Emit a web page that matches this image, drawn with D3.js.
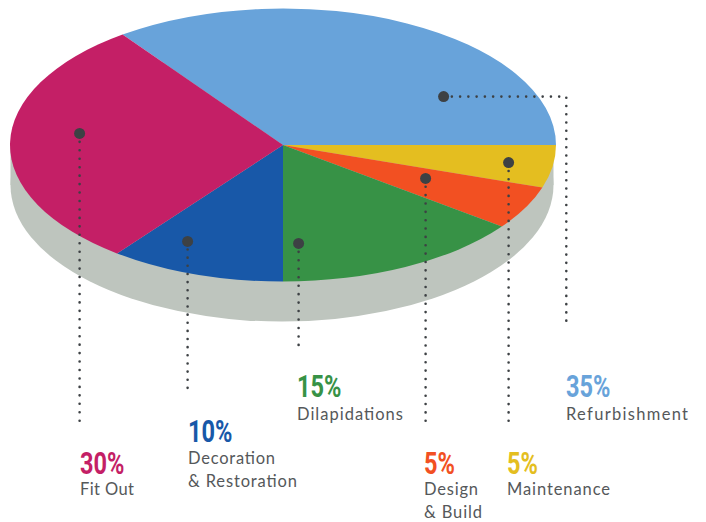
<!DOCTYPE html>
<html><head><meta charset="utf-8">
<style>html,body{margin:0;padding:0;background:#fff}svg{display:block}</style>
<script src="https://cdn.jsdelivr.net/npm/d3@7/dist/d3.min.js"></script></head>
<body><svg id="c" width="706" height="522"></svg>
<script>
const categories = ["Refurbishment","Maintenance","Design & Build","Dilapidations","Decoration & Restoration","Fit Out"];
const shares = [35,5,5,15,10,30];
const drawnShares = [35,5.05,5.15,14.8,10.4,29.6];
const colors = ["#68a3da","#e4be20","#f25022","#379246","#1858a8","#c41f66"];
const labelLines = [["Refurbishment"],["Maintenance"],["Design","& Build"],["Dilapidations"],["Decoration","& Restoration"],["Fit Out"]];
const lineWidths = [[122],[103],[54,58],[106],[87,109],[54]];
const labelX = [566,507,424,297,188,80];
const numberY = [397,474,474,397,442,474];
const textY = [420,495,495,420,464,495];
const anchorX = [443.6,508.6,425.6,298.6,187.6,79.6];
const anchorY = [96.6,162.6,178.4,243.4,241.4,133.4];
const turnX = 566.3;
const leaderEnd = [321,421,421,345,388,421];
const cx=283, cy=145, rx=273, ratio=0.5, depth=40, sideRx=271.5, sideCx=282;

const svg=d3.select("#c");
const start=-36*Math.PI/180;
const pie=d3.pie().sort(null).startAngle(start).endAngle(start+2*Math.PI);
const arc=d3.arc().innerRadius(0).outerRadius(rx);

// side wall
const side=svg.append("g").attr("fill","#bec5be");
side.append("rect").attr("x",sideCx-sideRx).attr("y",cy).attr("width",sideRx*2).attr("height",depth);
side.append("ellipse").attr("cx",sideCx).attr("cy",cy+depth).attr("rx",sideRx).attr("ry",rx*ratio);

// top face
svg.append("g").attr("transform",`translate(${cx},${cy}) scale(1,${ratio})`)
  .selectAll("path").data(pie(drawnShares)).join("path")
  .attr("d",arc).attr("fill",(d,i)=>colors[i]);

// leaders
const line=d3.line();
const leaders=svg.append("g");
categories.forEach((c,i)=>{
  const pts=i===0?[[anchorX[i],anchorY[i]],[turnX,anchorY[i]],[turnX,leaderEnd[i]]]
                 :[[anchorX[i],anchorY[i]],[anchorX[i],leaderEnd[i]]];
  const len=d3.sum(d3.pairs(pts),([a,b])=>Math.hypot(a[0]-b[0],a[1]-b[1]));
  const period=(len/Math.round(len/8.35))*0.999;
  leaders.append("path").attr("d",line(pts)).attr("fill","none").attr("stroke","#3d4144")
    .attr("stroke-width",2.6).attr("stroke-linecap","round").attr("stroke-dasharray",`0 ${period}`);
  leaders.append("circle").attr("cx",anchorX[i]).attr("cy",anchorY[i]).attr("r",5.5).attr("fill","#3d4144");
});

// labels
const lab=svg.append("g");
categories.forEach((c,i)=>{
  lab.append("text").attr("transform",`translate(${labelX[i]},${numberY[i]}) scale(0.76,1)`)
    .attr("font-family","Roboto,sans-serif")
    .attr("font-weight",700).attr("font-size",31).attr("fill",colors[i])
    .text(shares[i]+"%");
  labelLines[i].forEach((t,j)=>{
    lab.append("text").attr("x",labelX[i]).attr("y",textY[i]+j*23)
      .attr("font-family","Lato,Roboto,sans-serif").attr("font-size",16.5)
      .attr("textLength",lineWidths[i][j]).attr("lengthAdjust","spacing")
      .attr("fill","#55585a").text(t);
  });
});
</script></body></html>
